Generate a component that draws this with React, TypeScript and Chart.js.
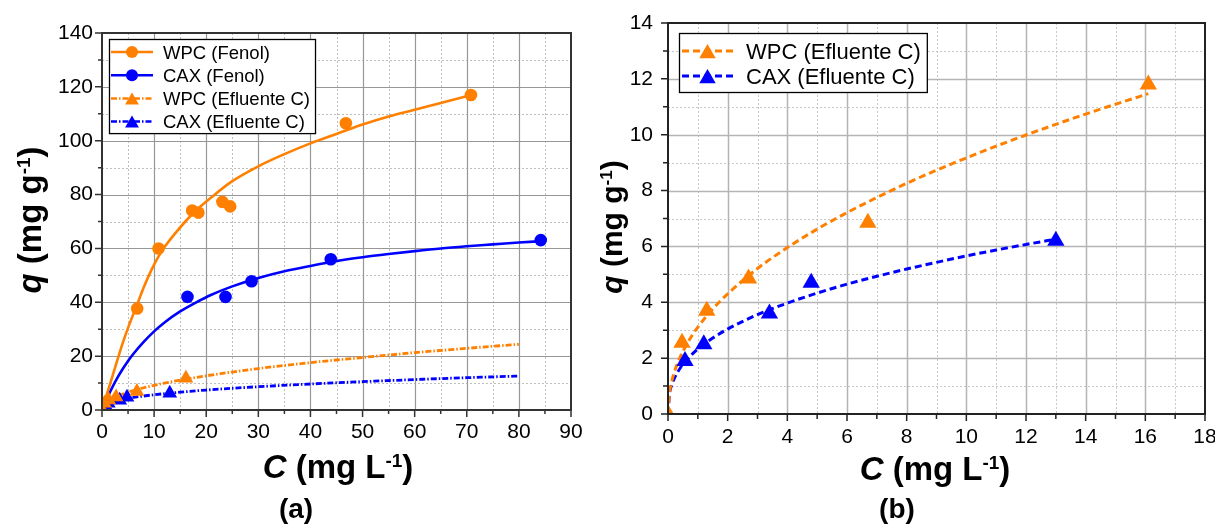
import React, { useEffect, useRef } from 'react';
import { Chart, registerables } from 'chart.js';

Chart.register(...registerables);

const ORANGE = '#FF8000';
const BLUE = '#0000FF';
const F = '"Liberation Sans", Arial, sans-serif';

// ---------- Panel (a): Fenol ----------
const wpcFenolC = [6.75, 10.85, 17.3, 18.5, 23.1, 24.6, 46.8, 70.8];
const wpcFenolQ = [37.7, 60.0, 74.1, 73.3, 77.3, 75.6, 106.5, 117.0];
const caxFenolC = [16.4, 23.7, 28.7, 43.9, 84.2];
const caxFenolQ = [42.0, 42.0, 47.8, 56.0, 63.1];

const wpcFenolFitC = [0, 2, 4, 5, 6, 7, 8, 9, 10, 11, 12, 14, 16, 18, 21, 25, 30, 35, 40, 45, 50, 55, 60, 65, 70.8];
const wpcFenolFitQ = [0, 12.5, 25, 30.5, 35.5, 40.5, 45.5, 50, 54, 57.5, 60.5, 65.5, 70, 74, 79, 85, 90.5, 95, 99, 102.5, 106, 109, 111.5, 114, 117];
const caxFenolFitC = [0, 1, 2, 3, 4, 5, 6, 8, 10, 12, 15, 18, 21, 25, 30, 35, 40, 45, 50, 55, 60, 65, 70, 75, 80, 84.3];
const caxFenolFitQ = [0, 4.5, 8.5, 12.1, 15.3, 18.2, 20.8, 25.3, 29.2, 32.5, 36.6, 39.9, 42.8, 45.9, 49.0, 51.5, 53.5, 55.3, 56.7, 57.9, 59.0, 60.0, 60.8, 61.5, 62.2, 62.7];

// ---------- Efluente C (both panels) ----------
const wpcEflC = [0, 0.47, 1.3, 2.7, 6.7, 16.1];
const wpcEflQ = [0, 2.55, 3.7, 4.85, 6.85, 11.8];
const caxEflC = [0.57, 1.2, 3.4, 4.8, 13.0];
const caxEflQ = [1.9, 2.5, 3.6, 4.7, 6.2];

// fitted curves, panel (a) (drawn to C = 80)
const wpcEflFitLongC = [0, 0.5, 1, 2, 4, 6, 8, 10, 15, 20, 25, 30, 40, 50, 60, 70, 80];
const wpcEflFitLongQ = [0, 2.24, 3.11, 4.3, 5.96, 7.21, 8.26, 9.17, 11.09, 12.7, 14.1, 15.4, 17.6, 19.5, 21.3, 22.9, 24.4];
const caxEflFitLongC = [0, 0.5, 1, 2, 4, 6, 8, 10, 15, 20, 25, 30, 40, 50, 60, 70, 80];
const caxEflFitLongQ = [0, 1.78, 2.33, 3.04, 3.97, 4.65, 5.19, 5.66, 6.62, 7.4, 8.06, 8.65, 9.66, 10.53, 11.3, 12.0, 12.6];

// fitted curves, panel (b)
const wpcEflFitC = [0, 0.05, 0.1, 0.2, 0.4, 0.6, 0.8, 1, 1.5, 2, 3, 4, 5, 6, 7, 8, 9, 10, 11, 12, 13, 14, 15, 16.1];
const wpcEflFitQ = [0, 0.76, 1.05, 1.46, 2.02, 2.44, 2.8, 3.11, 3.76, 4.3, 5.21, 5.96, 6.62, 7.21, 7.75, 8.26, 8.73, 9.17, 9.59, 9.99, 10.37, 10.74, 11.09, 11.47];
const caxEflFitC = [0, 0.05, 0.1, 0.2, 0.4, 0.6, 0.8, 1, 1.5, 2, 3, 4, 5, 6, 7, 8, 9, 10, 11, 12, 13];
const caxEflFitQ = [0, 0.73, 0.96, 1.25, 1.63, 1.91, 2.13, 2.33, 2.72, 3.04, 3.56, 3.97, 4.33, 4.65, 4.93, 5.19, 5.43, 5.66, 5.87, 6.07, 6.26];

// axis ranges / tick steps
const axisA = { xMax: 90, xStep: 10, xMinor: 5, yMax: 140, yStep: 20, yMinor: 10 };
const axisB = { xMax: 18, xStep: 2, xMinor: 1, yMax: 14, yStep: 2, yMinor: 1 };

const pts = (xs: number[], ys: number[]) => xs.map((x, i) => ({ x, y: ys[i] }));

type Seg = { t: string; font: string; dy?: number };

function drawRich(ctx: CanvasRenderingContext2D, segs: Seg[], x: number, y: number) {
  const widths = segs.map((s) => {
    ctx.font = s.font;
    return ctx.measureText(s.t).width;
  });
  const total = widths.reduce((a, b) => a + b, 0);
  let cx = x - total / 2;
  ctx.textAlign = 'left';
  ctx.textBaseline = 'alphabetic';
  segs.forEach((s, i) => {
    ctx.font = s.font;
    ctx.fillText(s.t, cx, y + (s.dy || 0));
    cx += widths[i];
  });
}

function titleSegs(italicLetter: string, unit: string, size: number, supSize: number, supDy: number): Seg[] {
  return [
    { t: italicLetter, font: `italic bold ${size}px ${F}` },
    { t: ` (mg ${unit}`, font: `bold ${size}px ${F}` },
    { t: '-1', font: `bold ${supSize}px ${F}`, dy: supDy },
    { t: ')', font: `bold ${size}px ${F}` },
  ];
}

function drawMarker(ctx: CanvasRenderingContext2D, kind: string, x: number, y: number, r: number, color: string) {
  ctx.save();
  ctx.setLineDash([]);
  ctx.fillStyle = color;
  ctx.beginPath();
  if (kind === 'circle') {
    ctx.arc(x, y, r, 0, Math.PI * 2);
  } else {
    const cy = y + r / 4;
    ctx.moveTo(x, cy - r);
    ctx.lineTo(x + r * Math.sin(Math.PI / 3), cy + r / 2);
    ctx.lineTo(x - r * Math.sin(Math.PI / 3), cy + r / 2);
    ctx.closePath();
  }
  ctx.fill();
  ctx.restore();
}

type LegendItem = { label: string; color: string; dash: number[]; marker: string; r: number; lw: number };

type PanelCfg = {
  axis: typeof axisA;
  majorColor: string;
  majorWidth: number;
  minorColor: string;
  frameColor: string;
  tickMajor: number;
  tickMinor: number;
  legend: {
    offX: number; offY: number; firstRow: number; rowH: number; padBottom: number;
    lineStart: number; lineEnd: number; textStart: number; padRight: number; fontSize: number;
    items: LegendItem[];
  };
  xTitle: { cx: number; base: number; size: number; sup: number; supDy: number };
  yTitle: { base: number; cy: number; size: number; sup: number; supDy: number };
  tag: { text: string; cx: number; base: number; size: number };
};

function makePlugin(cfg: PanelCfg) {
  return {
    id: 'panelDecor',
    beforeDatasetsDraw(chart: any) {
      const { ctx, chartArea: ca } = chart;
      const xs = chart.scales.x;
      const ys = chart.scales.y;
      const a = cfg.axis;
      ctx.save();
      // minor grid (dotted)
      ctx.lineWidth = 1;
      ctx.strokeStyle = cfg.minorColor;
      ctx.setLineDash([2, 2]);
      ctx.beginPath();
      for (let v = a.xMinor; v < a.xMax; v += a.xMinor) {
        if (Math.abs(v / a.xStep - Math.round(v / a.xStep)) < 1e-6) continue;
        const px = Math.round(xs.getPixelForValue(v)) + 0.5;
        ctx.moveTo(px, ca.top);
        ctx.lineTo(px, ca.bottom);
      }
      for (let v = a.yMinor; v < a.yMax; v += a.yMinor) {
        if (Math.abs(v / a.yStep - Math.round(v / a.yStep)) < 1e-6) continue;
        const py = Math.round(ys.getPixelForValue(v)) + 0.5;
        ctx.moveTo(ca.left, py);
        ctx.lineTo(ca.right, py);
      }
      ctx.stroke();
      // major grid
      ctx.setLineDash([]);
      ctx.lineWidth = cfg.majorWidth;
      ctx.strokeStyle = cfg.majorColor;
      ctx.beginPath();
      for (let v = a.xStep; v < a.xMax; v += a.xStep) {
        const px = Math.round(xs.getPixelForValue(v)) + 0.5;
        ctx.moveTo(px, ca.top);
        ctx.lineTo(px, ca.bottom);
      }
      for (let v = a.yStep; v < a.yMax; v += a.yStep) {
        const py = Math.round(ys.getPixelForValue(v)) + 0.5;
        ctx.moveTo(ca.left, py);
        ctx.lineTo(ca.right, py);
      }
      ctx.stroke();
      ctx.restore();
    },
    afterDatasetsDraw(chart: any) {
      const { ctx, chartArea: ca } = chart;
      const xs = chart.scales.x;
      const ys = chart.scales.y;
      const a = cfg.axis;
      ctx.save();
      // frame
      ctx.setLineDash([]);
      ctx.strokeStyle = cfg.frameColor;
      ctx.lineWidth = 2;
      ctx.strokeRect(ca.left, ca.top, ca.right - ca.left, ca.bottom - ca.top);
      // ticks (outward, left and bottom)
      ctx.lineWidth = 1.5;
      ctx.beginPath();
      for (let v = 0; v <= a.xMax + 1e-9; v += a.xMinor) {
        const major = Math.abs(v / a.xStep - Math.round(v / a.xStep)) < 1e-6;
        const px = xs.getPixelForValue(v);
        ctx.moveTo(px, ca.bottom);
        ctx.lineTo(px, ca.bottom + (major ? cfg.tickMajor : cfg.tickMinor));
      }
      for (let v = 0; v <= a.yMax + 1e-9; v += a.yMinor) {
        const major = Math.abs(v / a.yStep - Math.round(v / a.yStep)) < 1e-6;
        const py = ys.getPixelForValue(v);
        ctx.moveTo(ca.left, py);
        ctx.lineTo(ca.left - (major ? cfg.tickMajor : cfg.tickMinor), py);
      }
      ctx.stroke();

      // legend
      const L = cfg.legend;
      ctx.font = `${L.fontSize}px ${F}`;
      const maxW = Math.max(...L.items.map((it) => ctx.measureText(it.label).width));
      const bx = ca.left + L.offX;
      const by = ca.top + L.offY;
      const bw = L.textStart + maxW + L.padRight;
      const bh = L.firstRow + (L.items.length - 1) * L.rowH + L.padBottom;
      ctx.fillStyle = '#fff';
      ctx.fillRect(bx, by, bw, bh);
      ctx.strokeStyle = '#000';
      ctx.lineWidth = 1.3;
      ctx.strokeRect(bx + 0.5, by + 0.5, bw, bh);
      L.items.forEach((it, i) => {
        const cy = by + L.firstRow + i * L.rowH;
        ctx.save();
        ctx.strokeStyle = it.color;
        ctx.lineWidth = it.lw;
        ctx.setLineDash(it.dash);
        ctx.beginPath();
        ctx.moveTo(bx + L.lineStart, cy);
        ctx.lineTo(bx + L.lineEnd, cy);
        ctx.stroke();
        ctx.restore();
        drawMarker(ctx, it.marker, bx + (L.lineStart + L.lineEnd) / 2, cy, it.r, it.color);
        ctx.fillStyle = '#000';
        ctx.font = `${L.fontSize}px ${F}`;
        ctx.textAlign = 'left';
        ctx.textBaseline = 'alphabetic';
        ctx.fillText(it.label, bx + L.textStart, cy + L.fontSize * 0.36);
      });

      // axis titles
      ctx.fillStyle = '#000';
      const xt = cfg.xTitle;
      drawRich(ctx, titleSegs('C', 'L', xt.size, xt.sup, xt.supDy), xt.cx, xt.base);
      const yt = cfg.yTitle;
      ctx.save();
      ctx.translate(yt.base, yt.cy);
      ctx.rotate(-Math.PI / 2);
      drawRich(ctx, titleSegs('q', 'g', yt.size, yt.sup, yt.supDy), 0, 0);
      ctx.restore();
      // panel tag
      ctx.font = `bold ${cfg.tag.size}px ${F}`;
      ctx.textAlign = 'center';
      ctx.textBaseline = 'alphabetic';
      ctx.fillText(cfg.tag.text, cfg.tag.cx, cfg.tag.base);
      ctx.restore();
    },
  };
}

function scales(axis: typeof axisA, xHeight: number, yWidth: number, xPad: number, yPad: number) {
  const tickFont = { family: F, size: 21 };
  return {
    x: {
      type: 'linear',
      min: 0,
      max: axis.xMax,
      ticks: { stepSize: axis.xStep, font: tickFont, color: '#000', padding: xPad, maxRotation: 0, autoSkip: false },
      grid: { display: false, drawTicks: false },
      border: { display: false },
      afterFit: (s: any) => {
        s.height = xHeight;
        s.paddingLeft = 0;
        s.paddingRight = 0;
      },
    },
    y: {
      type: 'linear',
      min: 0,
      max: axis.yMax,
      ticks: { stepSize: axis.yStep, font: tickFont, color: '#000', padding: yPad, autoSkip: false },
      grid: { display: false, drawTicks: false },
      border: { display: false },
      afterFit: (s: any) => {
        s.width = yWidth;
        s.paddingTop = 0;
        s.paddingBottom = 0;
      },
    },
  };
}

const markerSet = (label: string, xs: number[], ys: number[], color: string, style: string, r: number) => ({
  label,
  data: pts(xs, ys),
  showLine: false,
  pointStyle: style,
  pointRadius: r,
  pointBorderWidth: 0,
  backgroundColor: color,
  borderColor: color,
});

const fitSet = (label: string, xs: number[], ys: number[], color: string, dash: number[], lw: number) => ({
  label,
  data: pts(xs, ys),
  showLine: true,
  pointRadius: 0,
  borderColor: color,
  backgroundColor: color,
  borderWidth: lw,
  borderDash: dash,
  cubicInterpolationMode: 'monotone',
  fill: false,
});

const DASH_A = [6, 2, 1.5, 2];
const DASH_B = [7, 4];

function buildA() {
  const cfg: PanelCfg = {
    axis: axisA,
    majorColor: '#979797',
    majorWidth: 1.2,
    minorColor: '#bdbdbd',
    frameColor: '#333',
    tickMajor: 7,
    tickMinor: 4,
    legend: {
      offX: 7, offY: 6, firstRow: 13, rowH: 23.2, padBottom: 11.5,
      lineStart: 2, lineEnd: 44, textStart: 54, padRight: 5, fontSize: 18.5,
      items: [
        { label: 'WPC (Fenol)', color: ORANGE, dash: [], marker: 'circle', r: 6, lw: 2.5 },
        { label: 'CAX (Fenol)', color: BLUE, dash: [], marker: 'circle', r: 6, lw: 2.5 },
        { label: 'WPC (Efluente C)', color: ORANGE, dash: DASH_A, marker: 'triangle', r: 8, lw: 2.5 },
        { label: 'CAX (Efluente C)', color: BLUE, dash: DASH_A, marker: 'triangle', r: 8, lw: 2.5 },
      ],
    },
    xTitle: { cx: 338, base: 478, size: 33, sup: 19, supDy: -11 },
    yTitle: { base: 41, cy: 220, size: 33, sup: 19, supDy: -11 },
    tag: { text: '(a)', cx: 296, base: 518, size: 28 },
  };
  return {
    type: 'scatter',
    data: {
      datasets: [
        markerSet('WPC (Fenol)', wpcFenolC, wpcFenolQ, ORANGE, 'circle', 6.3),
        markerSet('CAX (Fenol)', caxFenolC, caxFenolQ, BLUE, 'circle', 6.3),
        markerSet('WPC (Efluente C)', wpcEflC, wpcEflQ, ORANGE, 'triangle', 8.5),
        markerSet('CAX (Efluente C)', caxEflC, caxEflQ, BLUE, 'triangle', 8.5),
        fitSet('WPC (Fenol) ajuste', wpcFenolFitC, wpcFenolFitQ, ORANGE, [], 2.6),
        fitSet('CAX (Fenol) ajuste', caxFenolFitC, caxFenolFitQ, BLUE, [], 2.6),
        fitSet('WPC (Efluente C) ajuste', wpcEflFitLongC, wpcEflFitLongQ, ORANGE, DASH_A, 2.8),
        fitSet('CAX (Efluente C) ajuste', caxEflFitLongC, caxEflFitLongQ, BLUE, DASH_A, 2.8),
      ],
    },
    options: {
      responsive: false,
      animation: false,
      events: [],
      layout: { padding: { left: 0, top: 33, right: 29, bottom: 0 } },
      plugins: { legend: { display: false }, tooltip: { enabled: false } },
      scales: scales(axisA, 115, 102, 10, 9),
    },
    plugins: [makePlugin(cfg)],
  };
}

function buildB() {
  const cfg: PanelCfg = {
    axis: axisB,
    majorColor: '#b4b4b4',
    majorWidth: 1.5,
    minorColor: '#c8c8c8',
    frameColor: '#222',
    tickMajor: 7,
    tickMinor: 5,
    legend: {
      offX: 11, offY: 10, firstRow: 18, rowH: 25, padBottom: 16,
      lineStart: 3, lineEnd: 54, textStart: 67, padRight: 6, fontSize: 22,
      items: [
        { label: 'WPC (Efluente C)', color: ORANGE, dash: DASH_B, marker: 'triangle', r: 9.5, lw: 3 },
        { label: 'CAX (Efluente C)', color: BLUE, dash: DASH_B, marker: 'triangle', r: 9.5, lw: 3 },
      ],
    },
    xTitle: { cx: 335, base: 480, size: 33, sup: 19, supDy: -11 },
    yTitle: { base: 22, cy: 227, size: 30, sup: 17, supDy: -10 },
    tag: { text: '(b)', cx: 297, base: 518, size: 28 },
  };
  return {
    type: 'scatter',
    data: {
      datasets: [
        markerSet('WPC (Efluente C)', wpcEflC, wpcEflQ, ORANGE, 'triangle', 10),
        markerSet('CAX (Efluente C)', caxEflC, caxEflQ, BLUE, 'triangle', 10),
        fitSet('WPC (Efluente C) ajuste', wpcEflFitC, wpcEflFitQ, ORANGE, DASH_B, 3),
        fitSet('CAX (Efluente C) ajuste', caxEflFitC, caxEflFitQ, BLUE, DASH_B, 3),
      ],
    },
    options: {
      responsive: false,
      animation: false,
      events: [],
      layout: { padding: { left: 0, top: 23, right: 9, bottom: 0 } },
      plugins: { legend: { display: false }, tooltip: { enabled: false } },
      scales: scales(axisB, 111, 68, 11, 15),
    },
    plugins: [makePlugin(cfg)],
  };
}

export default function App() {
  const refA = useRef<HTMLCanvasElement | null>(null);
  const refB = useRef<HTMLCanvasElement | null>(null);

  useEffect(() => {
    const a = new Chart(refA.current as HTMLCanvasElement, buildA() as any);
    const b = new Chart(refB.current as HTMLCanvasElement, buildB() as any);
    return () => {
      a.destroy();
      b.destroy();
    };
  }, []);

  return (
    <div style={{ position: 'absolute', left: 0, top: 0, width: 1225, height: 525, background: '#fff', overflow: 'hidden' }}>
      <canvas ref={refA} width={600} height={525} style={{ position: 'absolute', left: 0, top: 0, width: 600, height: 525 }} />
      <canvas ref={refB} width={615} height={525} style={{ position: 'absolute', left: 600, top: 0, width: 615, height: 525 }} />
    </div>
  );
}
